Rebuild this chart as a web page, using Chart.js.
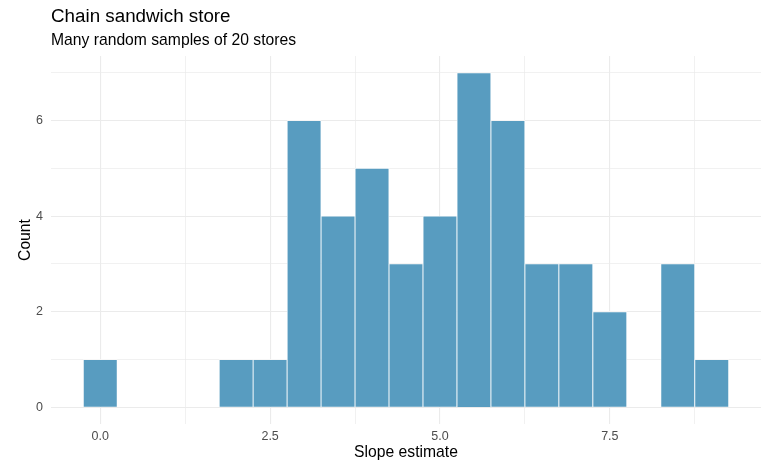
<!DOCTYPE html>
<html>
<head>
<meta charset="utf-8">
<script src="https://cdn.jsdelivr.net/npm/chart.js@4"></script>
<style>
  html, body { margin: 0; padding: 0; background: #ffffff; }
  #wrap { width: 761px; height: 462px; position: relative; }
</style>
</head>
<body>
<div id="wrap"><canvas id="chart" width="761" height="462"></canvas></div>
<script>
// Histogram bins (width 0.5) of slope estimates
const binCenters = [0.0, 2.0, 2.5, 3.0, 3.5, 4.0, 4.5, 5.0, 5.5, 6.0, 6.5, 7.0, 7.5, 8.0, 8.5, 9.0];
const binCounts  = [1,   1,   1,   6,   4,   5,   3,   4,   7,   6,   3,   3,   2,   0,   3,   1];

// Axis breaks: major labelled, minor unlabelled
const xMajorTicks = [0, 2.5, 5, 7.5];
const xMinorTicks = [1.25, 3.75, 6.25, 8.75];
const xTickLabels = ['0.0', '2.5', '5.0', '7.5'];
const yMajorTicks = [0, 2, 4, 6];
const yMinorTicks = [1, 3, 5, 7];

const titleText = 'Chain sandwich store';
const subtitleText = 'Many random samples of 20 stores';

const FONT = '"Liberation Sans", Arial, Helvetica, sans-serif';
const GRID = '#ebebeb';

// Title and subtitle, aligned with the left edge of the plot panel
const headerPlugin = {
  id: 'header',
  afterDraw(chart) {
    const ctx = chart.ctx;
    const x = chart.chartArea.left;
    ctx.save();
    ctx.fillStyle = '#000000';
    ctx.textAlign = 'left';
    ctx.textBaseline = 'alphabetic';
    ctx.font = '18.8px ' + FONT;
    ctx.fillText(titleText, x, 21.5);
    ctx.font = '15.7px ' + FONT;
    ctx.fillText(subtitleText, x, 45);
    ctx.restore();
  }
};

const xAllTicks = [...xMajorTicks, ...xMinorTicks].sort((a, b) => a - b);
const yAllTicks = [...yMajorTicks, ...yMinorTicks].sort((a, b) => a - b);

new Chart(document.getElementById('chart'), {
  type: 'bar',
  data: {
    datasets: [{
      data: binCenters.map((c, i) => ({ x: c, y: binCounts[i] })),
      backgroundColor: '#589cc0',
      borderColor: 'rgba(255,255,255,0.85)',
      borderWidth: 0.8,
      barPercentage: 1.0,
      categoryPercentage: 1.0
    }]
  },
  options: {
    responsive: false,
    animation: false,
    layout: { padding: { left: 0, right: 0, top: 56, bottom: 0 } },
    plugins: {
      legend: { display: false },
      tooltip: { enabled: false }
    },
    scales: {
      x: {
        type: 'linear',
        offset: false,
        min: -0.725,
        max: 9.725,
        afterBuildTicks(scale) { scale.ticks = xAllTicks.map(v => ({ value: v })); },
        afterFit(scale) { scale.height = 38; },
        ticks: {
          autoSkip: false,
          maxRotation: 0,
          padding: 5,
          color: '#4d4d4d',
          font: { family: FONT, size: 12.5 },
          callback(v) {
            const i = xMajorTicks.indexOf(v);
            return i >= 0 ? xTickLabels[i] : '';
          }
        },
        grid: {
          offset: false,
          color: GRID,
          lineWidth: ctx => (xMajorTicks.includes(ctx.tick && ctx.tick.value) ? 1.1 : 0.7),
          drawTicks: false
        },
        border: { display: false },
        title: {
          display: true,
          text: 'Slope estimate',
          color: '#000000',
          font: { family: FONT, size: 15.7 },
          padding: { top: 0, bottom: 0 }
        }
      },
      y: {
        type: 'linear',
        min: -0.35,
        max: 7.35,
        afterBuildTicks(scale) { scale.ticks = yAllTicks.map(v => ({ value: v })); },
        afterFit(scale) { scale.width = 51; },
        ticks: {
          padding: 8,
          color: '#4d4d4d',
          font: { family: FONT, size: 12.5 },
          callback(v) { return yMajorTicks.includes(v) ? String(v) : ''; }
        },
        grid: {
          color: GRID,
          lineWidth: ctx => (yMajorTicks.includes(ctx.tick && ctx.tick.value) ? 1.1 : 0.7),
          drawTicks: false
        },
        border: { display: false },
        title: {
          display: true,
          text: 'Count',
          color: '#000000',
          font: { family: FONT, size: 15.7 },
          padding: { top: 16, bottom: 0 }
        }
      }
    }
  },
  plugins: [headerPlugin]
});
</script>
</body>
</html>
